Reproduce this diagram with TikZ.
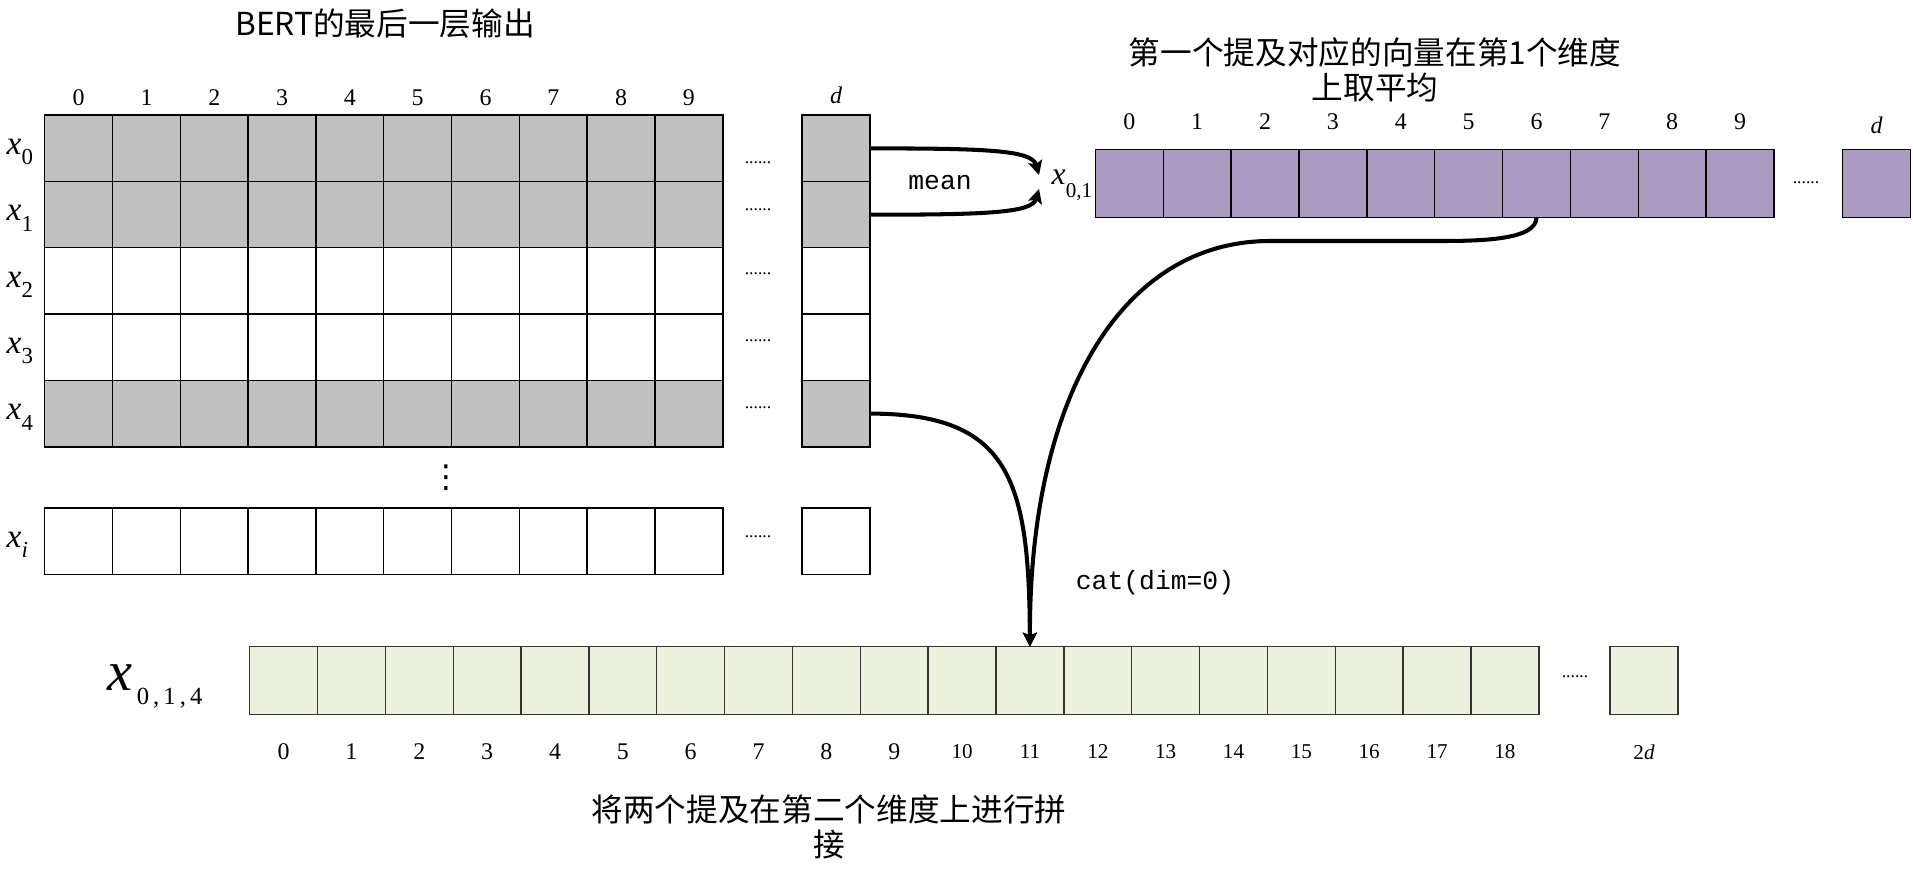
\documentclass[tikz,border=0pt]{standalone}
\usepackage{fontspec}
\setmainfont{Liberation Serif}
\newfontfamily\cjk{Noto Sans CJK SC}
\newfontfamily\monofont{Liberation Mono}
\newfontfamily\symfont{DejaVu Sans}
\usetikzlibrary{arrows.meta}
\definecolor{bertgray}{RGB}{192,192,192}
\definecolor{meanpurple}{RGB}{169,155,193}
\definecolor{catgreen}{RGB}{235,241,222}
\newcommand\xsub[4]{{\fontsize{#1}{#1}\selectfont\textit{x}}\raisebox{-#3}{\fontsize{#2}{#2}\selectfont#4}}
\tikzset{
  cell/.style={draw=black, line width=0.4pt, minimum width=0.678cm, minimum height=0.665cm, inner sep=0, outer sep=0},
  num/.style={font=\fontsize{6.8}{8}\selectfont, inner sep=0},
  smallnum/.style={font=\fontsize{6}{7}\selectfont, inner sep=0},
  more/.style={font=\fontsize{5}{6}\selectfont, inner sep=0},
  title/.style={font=\cjk\fontsize{9}{10}\selectfont, align=center, inner sep=0},
  op/.style={font=\monofont\fontsize{7.5}{9}\selectfont, inner sep=0},
  link/.style={line width=1.15pt, -{Stealth[length=4pt,width=4pt,inset=0.8pt]}},
}
\begin{document}
\begin{tikzpicture}[x=0.01cm, y=-0.01cm]
\useasboundingbox (0,0) rectangle (1913,876);

\node[title] (berttitle) at (385,24) {BERT的最后一层输出};
\foreach \c in {0,...,9}
  \node[num] (hl\c) at (78.7+67.8*\c, 98) {\c};
\node[num] (hld) at (836,95) {\textit{d}};
\foreach \r/\y/\f/\s/\dy in {0/148.4/bertgray/0/163, 1/214.7/bertgray/1/210, 2/281/white/2/274, 3/347.3/white/3/341, 4/413.6/bertgray/4/408, i/541.2/white/\textit{i}/537} {
  \foreach \c in {0,...,9}
    \node[cell, fill=\f] (h\r-\c) at (78.7+67.8*\c, \y) {};
  \node[cell, fill=\f] (h\r-d) at (836, \y) {};
  \node[more] (hdots\r) at (758, \dy) {......};
  \node[anchor=base west, inner sep=0] (x\r) at (6, \y+6) {\xsub{9.5}{6.5}{3pt}{\s}};
}
\node[font=\symfont\fontsize{9}{10}\selectfont, inner sep=0] (vdots) at (446.6,478) {⋮};

\node[title] (meantitle) at (1375,70) {第一个提及对应的向量在第1个维度\\上取平均};
\foreach \c in {0,...,9} {
  \node[cell, fill=meanpurple, minimum height=0.68cm] (p\c) at (1129.3+67.86*\c, 183.3) {};
  \node[num] (pl\c) at (1129.3+67.86*\c, 122) {\c};
}
\node[cell, fill=meanpurple, minimum height=0.68cm] (pd) at (1876.5,183.3) {};
\node[num] (pld) at (1876.5,125) {\textit{d}};
\node[more] (pdots) at (1806,183) {......};
\node[anchor=base west, inner sep=0] (x01) at (1051,185) {\xsub{9}{6}{3.6pt}{0,1}};

\node[op] (mean) at (940,183) {mean};
\coordinate (m0) at (1039,175);
\coordinate (m1) at (1039,189);
\draw[link] (h0-d.east) .. controls (985,148.4) and (1032,150) .. (m0);
\draw[link] (h1-d.east) .. controls (985,214.7) and (1032,213) .. (m1);

\foreach \c in {0,...,18}
  \node[cell, fill=catgreen, draw=black!80, minimum height=0.676cm] (g\c) at (283.6+67.85*\c, 680.5) {};
\foreach \c in {0,...,9}
  \node[num] (gl\c) at (283.6+67.85*\c, 752) {\c};
\foreach \c in {10,...,18}
  \node[smallnum] (gl\c) at (283.6+67.85*\c, 752) {\c};
\node[cell, fill=catgreen, draw=black!80, minimum height=0.676cm] (g2d) at (1644,680.5) {};
\node[smallnum] (gl2d) at (1644,752) {2\textit{d}};
\node[more] (gdots) at (1575,677) {......};
\node[anchor=base west, inner sep=0] (x014) at (107,690) {\xsub{16}{7}{4pt}{\,0\,,\,1\,,\,4}};

\node[op] (cat) at (1155,583) {cat(dim=0)};
\draw[link] (p6.south) .. controls +(0,22) and +(45,0) .. (1440,241) -- (1270,241) .. controls (1120,241) and (1029,400) .. (g11.north);
\draw[link] (h4-d.east) .. controls (1010,413.6) and (1029,480) .. (g11.north);

\node[title] (cattitle) at (829,827) {将两个提及在第二个维度上进行拼\\接};
\end{tikzpicture}
\end{document}
